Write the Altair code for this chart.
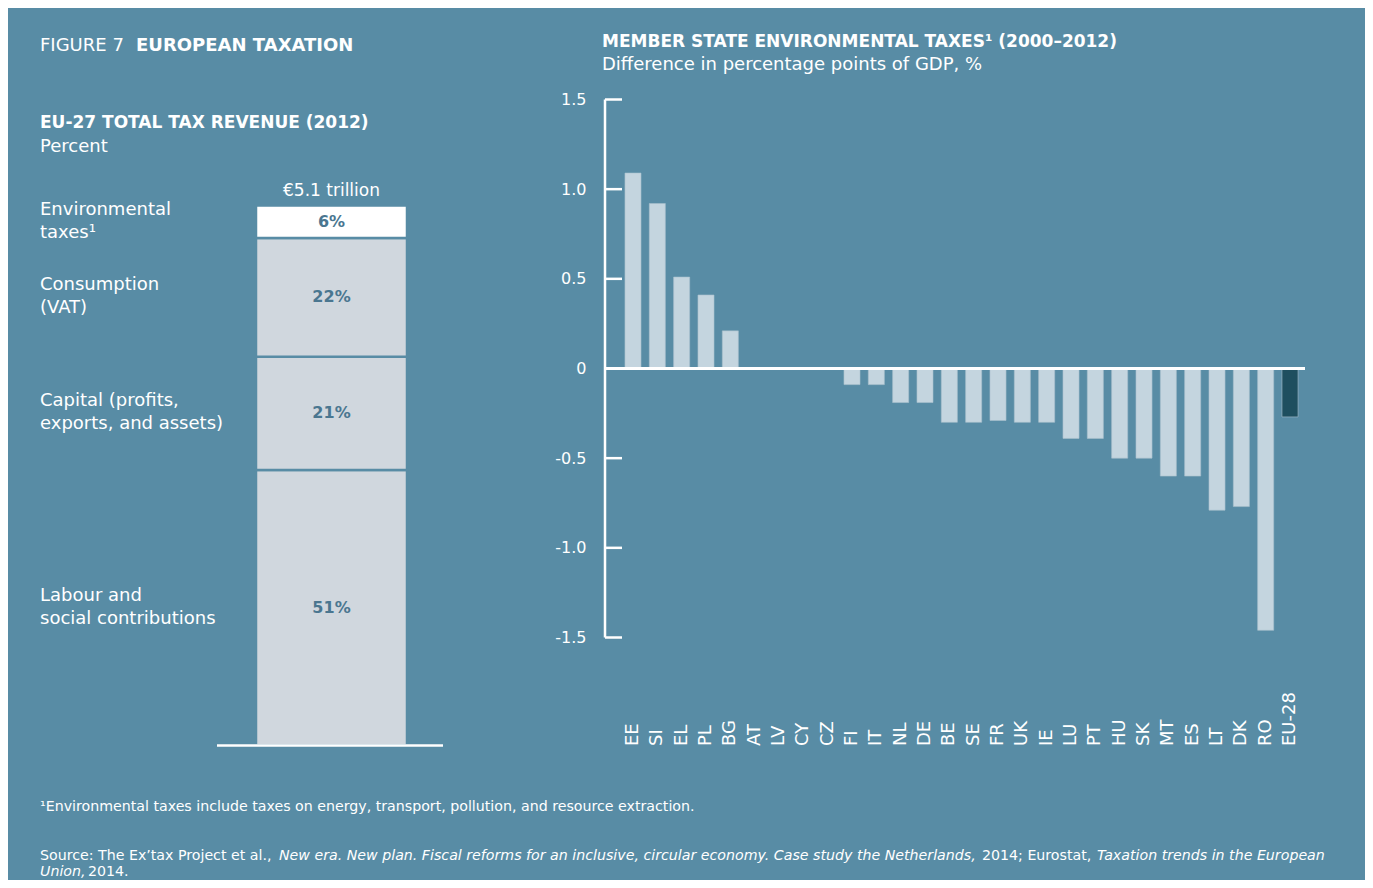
import altair as alt
import pandas as pd

BG = "#588ca5"
LIGHT = "#c4d5df"
DARK = "#1e4f5f"
GREY = "#d0d7de"
PCT_COLOR = "#4a7690"
FONT = "DejaVu Sans"

# ---------------- data ----------------
rev_categories = ["Environmental taxes", "Consumption (VAT)",
                  "Capital (profits, exports, and assets)",
                  "Labour and social contributions"]
rev_labels = ["Environmental\ntaxes\u00b9", "Consumption\n(VAT)",
              "Capital (profits,\nexports, and assets)",
              "Labour and\nsocial contributions"]
rev_percent = [6, 22, 21, 51]
rev_total_label = "\u20ac5.1 trillion"

countries = ["EE", "SI", "EL", "PL", "BG", "AT", "LV", "CY", "CZ", "FI", "IT",
             "NL", "DE", "BE", "SE", "FR", "UK", "IE", "LU", "PT", "HU", "SK",
             "MT", "ES", "LT", "DK", "RO", "EU-28"]
env_diff = [1.09, 0.92, 0.51, 0.41, 0.21, 0.0, 0.0, 0.0, 0.0, -0.09, -0.09,
            -0.19, -0.19, -0.30, -0.30, -0.29, -0.30, -0.30, -0.39, -0.39,
            -0.50, -0.50, -0.60, -0.60, -0.79, -0.77, -1.46, -0.27]
y_ticks = [-1.5, -1.0, -0.5, 0, 0.5, 1.0, 1.5]

# ---------------- layout constants ----------------
PLOT_H = 646
LEFT_W = 151
RIGHT_W = 713
BAR_PX = 540          # pixel height of the 100% stacked bar
LEFT_YMAX = 100 * PLOT_H / BAR_PX
PX_PER_UNIT = 538 / 3
RIGHT_YMIN = -1.5 - (PLOT_H - 538) / PX_PER_UNIT

# stacked bar table (bottom segment first)
rev = pd.DataFrame({"category": rev_categories, "label": rev_labels,
                    "pct": rev_percent})
rev["panel"] = "EU-27"
stack = rev.iloc[::-1].copy()
stack["y0"] = stack["pct"].cumsum() - stack["pct"]
stack["y1"] = stack["pct"].cumsum()
stack["ymid"] = (stack["y0"] + stack["y1"]) / 2
stack["pct_label"] = stack["pct"].astype(str) + "%"

lscale = alt.Scale(domain=[0, LEFT_YMAX], nice=False)
xband = alt.Scale(paddingInner=0, paddingOuter=0)

base_l = alt.Chart(stack)
left_bar = base_l.mark_bar(stroke=BG, strokeWidth=2.5).encode(
    x=alt.X("panel:N", scale=xband, axis=None),
    y=alt.Y("y0:Q", scale=lscale, axis=None),
    y2="y1:Q",
    color=alt.condition(alt.datum.category == rev_categories[0],
                        alt.value("white"), alt.value(GREY)),
)
left_pct = base_l.mark_text(fontWeight="bold", fontSize=16, color=PCT_COLOR,
                            baseline="middle").encode(
    x=alt.X("panel:N", scale=xband, axis=None),
    y=alt.Y("ymid:Q", scale=lscale, axis=None),
    text="pct_label:N",
)
left_cat = base_l.mark_text(align="left", baseline="middle", fontSize=18,
                            color="white", lineBreak="\n", lineHeight=23,
                            dy=-12).encode(
    x=alt.value(-216),
    y=alt.Y("ymid:Q", scale=lscale, axis=None),
    text="label:N",
)
total_df = pd.DataFrame({"panel": ["EU-27"], "top": [100],
                         "note": [rev_total_label]})
left_total = alt.Chart(total_df).mark_text(fontSize=17, color="white",
                                           baseline="middle", dy=-15).encode(
    x=alt.X("panel:N", scale=xband, axis=None),
    y=alt.Y("top:Q", scale=lscale, axis=None),
    text="note:N",
)
base_df = pd.DataFrame({"z": [0]})
left_base = alt.Chart(base_df).mark_rule(color="white", strokeWidth=2.5).encode(
    y=alt.Y("z:Q", scale=lscale, axis=None),
    x=alt.value(-39), x2=alt.value(187),
)


def label(text, x, y, size=16, weight="normal", style="normal", align="left"):
    return alt.Chart(pd.DataFrame({"t": [text]})).mark_text(
        align=align, baseline="middle", fontSize=size, fontWeight=weight,
        fontStyle=style, color="white").encode(
        x=alt.value(x), y=alt.value(y), text="t:N")


FOOT = 14.2
headings = [
    label("FIGURE 7", -216, -54, size=18),
    label("EUROPEAN TAXATION", -120, -54, size=18, weight="bold"),
    label("EU-27 TOTAL TAX REVENUE (2012)", -216, 23, size=17, weight="bold"),
    label("Percent", -216, 47, size=18),
    label("\u00b9Environmental taxes include taxes on energy, transport, pollution, and resource extraction.",
          -216, 707, size=FOOT),
    label("Source: The Ex\u2019tax Project et al.,", -216, 756, size=FOOT),
    label("New era. New plan. Fiscal reforms for an inclusive, circular economy. Case study the Netherlands,",
          23, 756, size=FOOT, style="italic"),
    label("2014; Eurostat,", 726, 756, size=FOOT),
    label("Taxation trends in the European", 841, 756, size=FOOT, style="italic"),
    label("Union,", -216, 772, size=FOOT, style="italic"),
    label("2014.", -168, 772, size=FOOT),
]

left = alt.layer(left_bar, left_pct, left_cat, left_total, left_base,
                 *headings).properties(width=LEFT_W, height=PLOT_H)

# ---------------- right panel ----------------
env = pd.DataFrame({"country": countries, "value": env_diff})
rscale = alt.Scale(domain=[RIGHT_YMIN, 1.5], nice=False)
yaxis = alt.Axis(title=None, values=y_ticks, ticks=False, domain=False,
                 grid=False, labelPadding=19, labelFontSize=16,
                 labelColor="white", labelFont=FONT,
                 labelExpr="datum.value == 0 ? '0' : replace(format(datum.value, '.1f'), '\u2212', '-')")
bars = alt.Chart(env).mark_bar(stroke="#a7bfcd", strokeWidth=0.6).encode(
    x=alt.X("country:N", sort=countries,
            scale=alt.Scale(paddingInner=0.34, paddingOuter=0.82),
            axis=alt.Axis(title=None, labelAngle=270, labelAlign="left",
                          labelBaseline="middle", labelPadding=0, ticks=False,
                          domain=False, labelColor="white", labelFontSize=18,
                          labelFont=FONT, labelOverlap=False)),
    y=alt.Y("value:Q", scale=rscale, axis=yaxis),
    color=alt.condition(alt.datum.country == "EU-28", alt.value(DARK),
                        alt.value(LIGHT)),
)
ext_df = pd.DataFrame({"top": [max(y_ticks)], "bot": [min(y_ticks)]})
yline = alt.Chart(ext_df).mark_rule(color="white", strokeWidth=2.5).encode(
    x=alt.value(0),
    y=alt.Y("top:Q", scale=rscale, axis=yaxis), y2="bot:Q",
)
tick_df = pd.DataFrame({"v": [t for t in y_ticks if t != 0]})
yticks = alt.Chart(tick_df).mark_rule(color="white", strokeWidth=2.5).encode(
    y=alt.Y("v:Q", scale=rscale, axis=yaxis),
    x=alt.value(0), x2=alt.value(17),
)
zero_df = pd.DataFrame({"z": [0]})
zline = alt.Chart(zero_df).mark_rule(color="white", strokeWidth=3).encode(
    y=alt.Y("z:Q", scale=rscale, axis=yaxis),
    x=alt.value(0), x2=alt.value(700),
)
rtitles = [
    label("MEMBER STATE ENVIRONMENTAL TAXES\u00b9 (2000\u20132012)", -3, -58,
          size=17, weight="bold"),
    label("Difference in percentage points of GDP, %", -3, -35, size=18),
]
right = alt.layer(bars, yline, yticks, zline, *rtitles).properties(
    width=RIGHT_W, height=PLOT_H)

chart = alt.hconcat(left, right, spacing=198, bounds="flush").properties(
    background=BG,
    padding={"left": 32, "top": 24.5, "right": 40, "bottom": 0},
).configure(font=FONT).configure_view(stroke=None)

chart.save("out.html", embed_options={"renderer": "svg", "actions": False})
